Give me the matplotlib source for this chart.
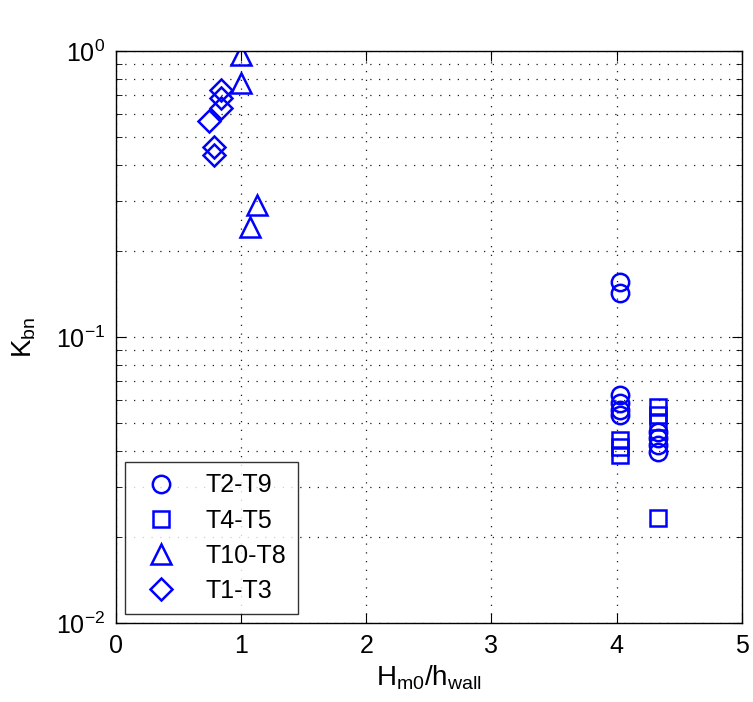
import numpy as np
import matplotlib
matplotlib.use('Agg')
import matplotlib.pyplot as plt
from matplotlib.ticker import LogLocator, FixedLocator

plt.rcParams['font.family'] = ['Liberation Sans', 'DejaVu Sans']
plt.rcParams['mathtext.fontset'] = 'custom'
plt.rcParams['mathtext.rm'] = 'Liberation Sans'
plt.rcParams['mathtext.it'] = 'Liberation Sans'
plt.rcParams['mathtext.default'] = 'regular'
plt.rcParams['axes.unicode_minus'] = False

# data
t2_t9_x = [4.03, 4.03, 4.03, 4.03, 4.03, 4.03, 4.33, 4.33, 4.33, 4.33]
t2_t9_y = [0.156, 0.143, 0.0627, 0.0588, 0.0556, 0.0533, 0.0466, 0.0443, 0.0419, 0.0396]

t4_t5_x = [4.03, 4.03, 4.03, 4.33, 4.33, 4.33, 4.33]
t4_t5_y = [0.0436, 0.0412, 0.0387, 0.0569, 0.0533, 0.0504, 0.0233]

t10_t8_x = [1.0, 1.0, 1.13, 1.07]
t10_t8_y = [0.968, 0.773, 0.29, 0.242]

t1_t3_x = [0.84, 0.84, 0.84, 0.74, 0.78, 0.78]
t1_t3_y = [0.731, 0.685, 0.632, 0.569, 0.462, 0.433]

labels = ['T2-T9', 'T4-T5', 'T10-T8', 'T1-T3']

fig = plt.figure(figsize=(7.53, 7.02), dpi=100)
ax = fig.add_axes([0.154, 0.1125, 0.831, 0.8148])

style = dict(linestyle='none', color='blue', mfc='none', mew=1.8)
ax.plot(t2_t9_x, t2_t9_y, marker='o', ms=12.5, label=labels[0], **style)
ax.plot(t4_t5_x, t4_t5_y, marker='s', ms=11.5, label=labels[1], **style)
ax.plot(t10_t8_x, t10_t8_y, marker='^', ms=15, label=labels[2], **style)
ax.plot(t1_t3_x, t1_t3_y, marker='D', ms=11, label=labels[3], **style)

ax.set_yscale('log')
ax.set_xlim(0, 5)
ax.set_ylim(1e-2, 1)
ax.xaxis.set_major_locator(FixedLocator([0, 1, 2, 3, 4, 5]))
ax.yaxis.set_major_locator(LogLocator(base=10, numticks=5))
ax.yaxis.set_minor_locator(LogLocator(base=10, subs=np.arange(2, 10), numticks=20))

dots = (0, (1, 6))
ax.grid(True, which='major', color='0.1', linestyle=dots, linewidth=0.9)
ax.grid(True, which='minor', axis='y', color='0.1', linestyle=dots, linewidth=0.9)

ax.tick_params(which='both', direction='in', top=True, right=True, labelsize=18, pad=8)
ax.tick_params(which='major', length=7)
ax.tick_params(which='minor', length=4)
ax.tick_params(axis='y', which='minor', labelleft=False)
for s in ax.spines.values():
    s.set_linewidth(1.0)

ax.set_xlabel('$H_{m0}/h_{wall}$', fontsize=20, labelpad=4)
ax.set_ylabel('$K_{bn}$', fontsize=20, labelpad=13)

leg = ax.legend(loc='lower left', fontsize=18, frameon=True, fancybox=False,
                edgecolor='black', borderpad=0.45, handletextpad=0.8, labelspacing=0.45,
                borderaxespad=0.35, handlelength=2.0)
leg.get_frame().set_linewidth(1.0)

fig.savefig('out.png', dpi=100)
